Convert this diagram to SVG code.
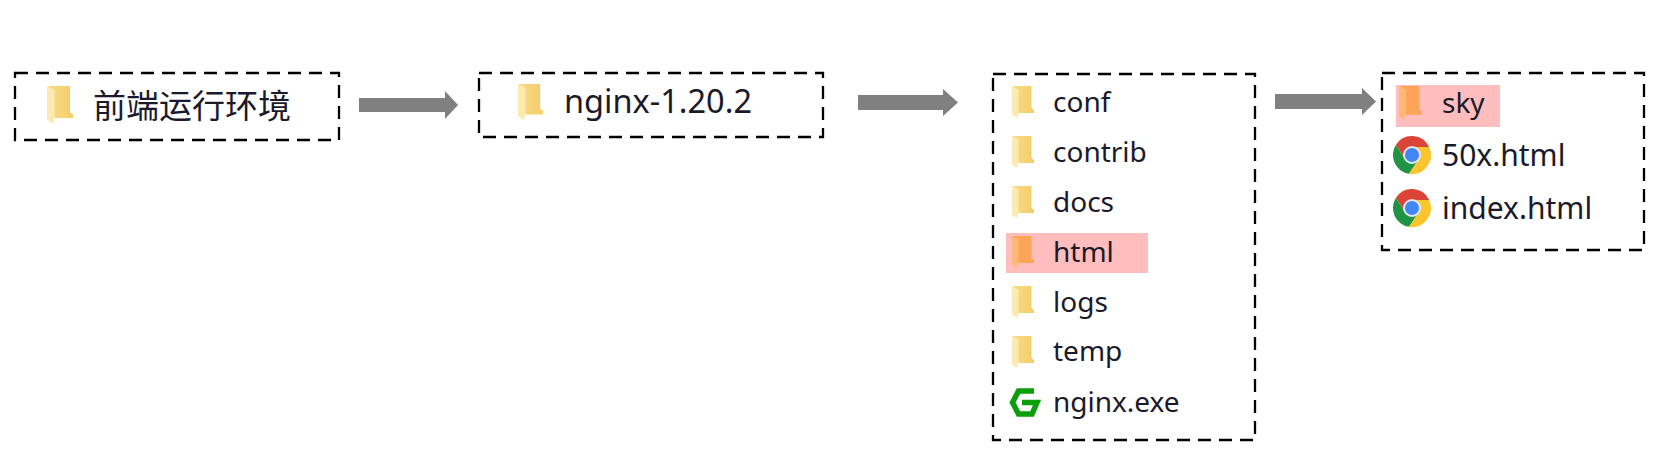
<svg xmlns="http://www.w3.org/2000/svg" xmlns:xlink="http://www.w3.org/1999/xlink" width="1671" height="458" viewBox="0 0 1671 458">
<style>
.box{fill:none;stroke:#000;stroke-width:2.3;stroke-dasharray:13 8}
.t{font-family:"Noto Sans","Noto Sans CJK SC",sans-serif;font-size:28px;fill:#1a1a2a}
.l{font-size:30px}
.n{font-size:32.500px}
.c{font-family:"Noto Sans CJK SC","Noto Sans",sans-serif;font-size:33px;fill:#1a1a2a}
.hl{fill:#ffbdbd}
.arrow{fill:#808080}
</style>
<defs>
<linearGradient id="fy" x1="0" x2="1" y1="0" y2="0"><stop offset="0" stop-color="#f9dc8a"/><stop offset="1" stop-color="#f3cd68"/></linearGradient>
<symbol id="folder" viewBox="0 0 22 32" preserveAspectRatio="none" overflow="visible">
<path d="M0 0H19.500V22L22 24V27H6V5Z" fill="url(#fy)"/>
<path d="M0 0L6.500 3.500V27L5 32L0 28.500Z" fill="#fdeab0"/>
</symbol>
<symbol id="folderO" viewBox="0 0 22 32" preserveAspectRatio="none" overflow="visible">
<path d="M0 0H19.500V22L22 24V27H6V5Z" fill="#fca556"/>
<path d="M0 0L6.500 3.500V27L5 32L0 28.500Z" fill="#ffb878"/>
</symbol>
<symbol id="chrome" viewBox="-19 -19 38 38" overflow="visible">
<path d="M-16.200-10A19 19 0 0 1 17.200-8H0L-7 4Z" fill="#db4437"/>
<path d="M-16.200-10A19 19 0 0 0-3 18.800L7 4H-7Z" fill="#1f9445"/>
<path d="M17.200-8A19 19 0 0 1-3 18.800L7 4 0-8Z" fill="#fbc52d"/>
<circle r="9" fill="#e6e9ef"/>
<circle r="7" fill="#4285f4"/>
</symbol>
<symbol id="ngx" viewBox="0 0 31 29" overflow="visible">
<path d="M25 3H9.500L3.500 14.500L9.500 26H23L28 14.500H13" fill="none" stroke="#0a9e0a" stroke-width="5.500" stroke-linejoin="miter"/>
</symbol>
</defs>
<rect width="1671" height="458" fill="#fff"/>
<g id="connectors">
<polygon class="arrow" points="359,98 445,98 445,91 458,105 445,119 445,112 359,112"/>
<polygon class="arrow" points="858,95 943,95 943,89 958,102.500 943,116 943,110 858,110"/>
<polygon class="arrow" points="1275,94 1362,94 1362,88 1376,101.500 1362,115 1362,109 1275,109"/>
</g>
<g id="node-frontend">
<rect class="box" x="15" y="73" width="324" height="67"/>
<use href="#folder" x="47" y="86" width="26" height="38"/>
<text class="c" x="93" y="118">前端运行环境</text>
</g>
<g id="node-nginx">
<rect class="box" x="479" y="73" width="344" height="64"/>
<use href="#folder" x="518" y="84" width="25" height="36"/>
<text class="t n" x="564" y="113">nginx-1.20.2</text>
</g>
<g id="node-root">
<rect class="box" x="993" y="74" width="262" height="366"/>
<rect class="hl" x="1006" y="233" width="142" height="40"/>
<use href="#folder" x="1012" y="86" width="22" height="32"/>
<text class="t" x="1053" y="112">conf</text>
<use href="#folder" x="1012" y="136" width="22" height="32"/>
<text class="t" x="1053" y="162">contrib</text>
<use href="#folder" x="1012" y="186" width="22" height="32"/>
<text class="t" x="1053" y="212">docs</text>
<use href="#folderO" x="1012" y="236" width="22" height="32"/>
<text class="t" x="1053" y="262">html</text>
<use href="#folder" x="1012" y="286" width="22" height="32"/>
<text class="t" x="1053" y="312">logs</text>
<use href="#folder" x="1012" y="336" width="22" height="32"/>
<text class="t" x="1053" y="361">temp</text>
<use href="#ngx" x="1009" y="388" width="31" height="29"/>
<text class="t" x="1053" y="412">nginx.exe</text>
</g>
<g id="node-html">
<rect class="box" x="1382" y="73" width="262" height="177"/>
<rect class="hl" x="1396" y="85" width="104" height="42"/>
<use href="#folderO" x="1399" y="86" width="23" height="34"/>
<text class="t" x="1442" y="113">sky</text>
<use href="#chrome" x="1393" y="136" width="38" height="38"/>
<text class="t l" x="1442" y="166">50x.html</text>
<use href="#chrome" x="1393" y="189" width="38" height="38"/>
<text class="t l" x="1442" y="219">index.html</text>
</g>
</svg>
